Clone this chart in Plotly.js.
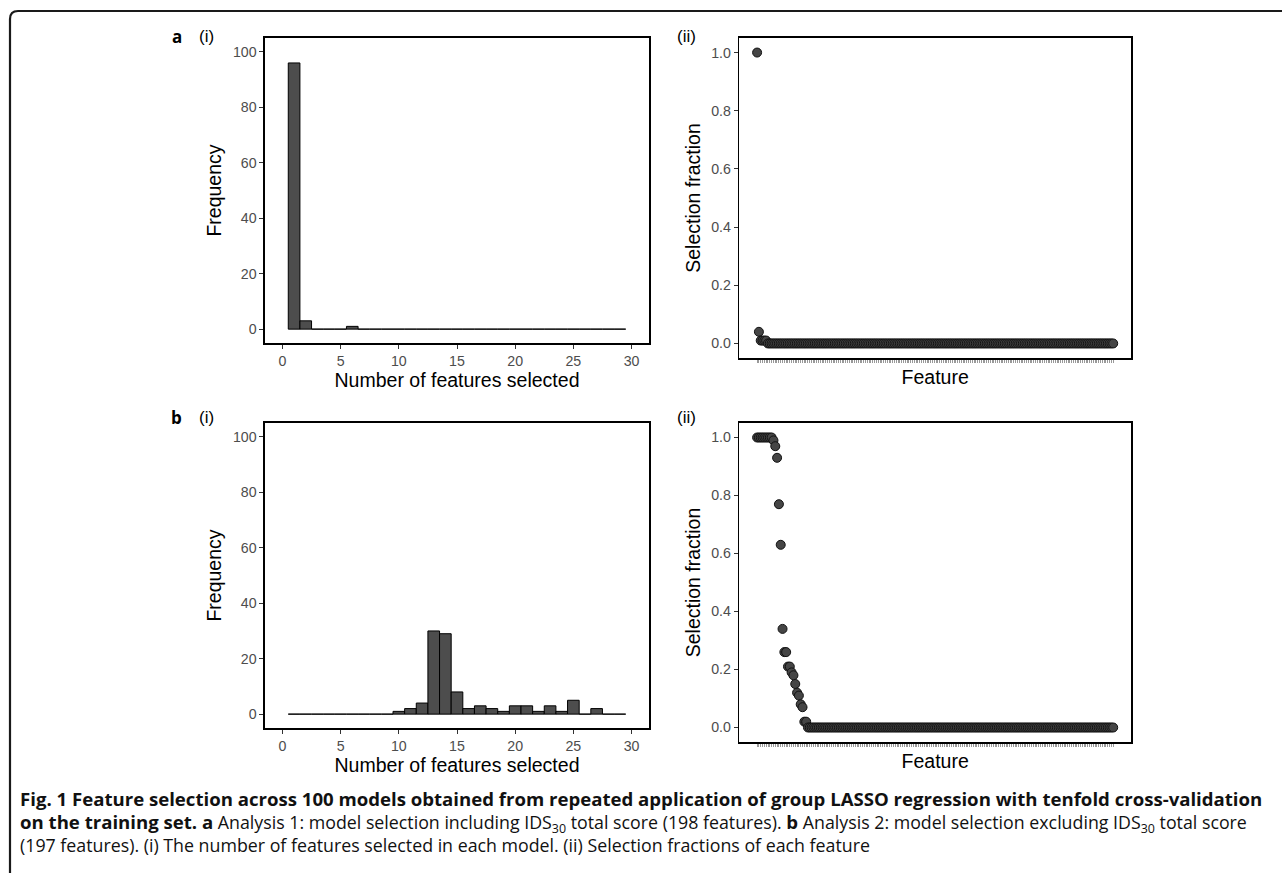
<!DOCTYPE html>
<html>
<head>
<meta charset="utf-8">
<script src="https://cdn.plot.ly/plotly-3.0.1.min.js"></script>
<style>
  html, body { margin: 0; padding: 0; background: #ffffff; }
  #chart { width: 1282px; height: 873px; }
</style>
</head>
<body>
<div id="chart"></div>
<script>
// ---------- DATA ----------
// Histogram bins: number of features selected per model
const bins = [1,2,3,4,5,6,7,8,9,10,11,12,13,14,15,16,17,18,19,20,21,22,23,24,25,26,27,28,29];
// Analysis 1 (a-i): frequency of models per number of selected features
const freqA = [96,3,0,0,0,1,0,0,0,0,0,0,0,0,0,0,0,0,0,0,0,0,0,0,0,0,0,0,0];
// Analysis 2 (b-i)
const freqB = [0,0,0,0,0,0,0,0,0,1,2,4,30,29,8,2,3,2,1,3,3,1,3,1,5,0,2,0,0];

// Selection fraction of each feature (sorted), Analysis 1: 198 features
const fracA = [1.00,0.04,0.01,0.01,0.01,0.01,
  0,0,0,0,0,0,0,0,0,0,0,0,0,0,0,0,0,0,0,0,
  0,0,0,0,0,0,0,0,0,0,0,0,0,0,0,0,0,0,0,0,
  0,0,0,0,0,0,0,0,0,0,0,0,0,0,0,0,0,0,0,0,
  0,0,0,0,0,0,0,0,0,0,0,0,0,0,0,0,0,0,0,0,
  0,0,0,0,0,0,0,0,0,0,0,0,0,0,0,0,0,0,0,0,
  0,0,0,0,0,0,0,0,0,0,0,0,0,0,0,0,0,0,0,0,
  0,0,0,0,0,0,0,0,0,0,0,0,0,0,0,0,0,0,0,0,
  0,0,0,0,0,0,0,0,0,0,0,0,0,0,0,0,0,0,0,0,
  0,0,0,0,0,0,0,0,0,0,0,0,0,0,0,0,0,0,0,0,
  0,0,0,0,0,0,0,0,0,0,0,0];
// Analysis 2: 197 features
const fracB = [1.00,1.00,1.00,1.00,1.00,1.00,1.00,1.00,1.00,0.99,0.97,0.93,0.77,0.63,
  0.34,0.26,0.26,0.21,0.21,0.19,0.18,0.15,0.12,0.11,0.08,0.07,0.02,0.02,
  0,0,0,0,0,0,0,0,0,0,0,0,0,0,0,0,0,0,0,0,
  0,0,0,0,0,0,0,0,0,0,0,0,0,0,0,0,0,0,0,0,
  0,0,0,0,0,0,0,0,0,0,0,0,0,0,0,0,0,0,0,0,
  0,0,0,0,0,0,0,0,0,0,0,0,0,0,0,0,0,0,0,0,
  0,0,0,0,0,0,0,0,0,0,0,0,0,0,0,0,0,0,0,0,
  0,0,0,0,0,0,0,0,0,0,0,0,0,0,0,0,0,0,0,0,
  0,0,0,0,0,0,0,0,0,0,0,0,0,0,0,0,0,0,0,0,
  0,0,0,0,0,0,0,0,0,0,0,0,0,0,0,0,0,0,0,0,
  0,0,0,0,0,0,0,0,0];

const histTicks = [0,5,10,15,20,25,30];
const freqTicks = [0,20,40,60,80,100];
const fracTicks = [0,0.2,0.4,0.6,0.8,1.0];

const featA = fracA.map((_, i) => i + 1);
const featB = fracB.map((_, i) => i + 1);

// ---------- STYLE ----------
const W = 1282, H = 873;
const px = v => v / W;
const py = v => 1 - v / H;
const SANS = 'Liberation Sans, Arial, Helvetica, sans-serif';
const CAP = 'Open Sans, Noto Sans, sans-serif';

const barStyle = {color: '#4d4d4d', line: {color: '#000000', width: 1}};
const ptStyle = {size: 9, color: '#454545', line: {color: '#111111', width: 1}};

const traces = [
  {type: 'bar', x: bins, y: freqA, width: 1, marker: barStyle, xaxis: 'x', yaxis: 'y'},
  {type: 'scatter', mode: 'markers', x: featA, y: fracA, marker: ptStyle, xaxis: 'x2', yaxis: 'y2'},
  {type: 'bar', x: bins, y: freqB, width: 1, marker: barStyle, xaxis: 'x3', yaxis: 'y3'},
  {type: 'scatter', mode: 'markers', x: featB, y: fracB, marker: ptStyle, xaxis: 'x4', yaxis: 'y4'}
];

function ax(extra) {
  return Object.assign({
    showline: true, mirror: true, linecolor: '#000000', linewidth: 1.6,
    ticks: 'outside', ticklen: 4, tickwidth: 1, tickcolor: '#333333',
    tickfont: {family: SANS, size: 14.2, color: '#4d4d4d'},
    showgrid: false, zeroline: false, automargin: false, fixedrange: true
  }, extra);
}
const titleFont = {family: SANS, size: 19.5, color: '#000000'};

function ann(text, x, y, font, anchor) {
  return {text: text, x: px(x), y: py(y), xref: 'paper', yref: 'paper', showarrow: false,
          xanchor: anchor || 'center', yanchor: 'middle', font: font};
}

const B = s => '<b><span style="font-size:18.6px">' + s + '</span></b>';
const R = s => '<span style="font-size:17.8px">' + s + '</span>';
const captionText =
  B('Fig. 1 Feature selection across 100 models obtained from repeated application of group LASSO regression with tenfold cross-validation') + '<br>' +
  B('on the training set. a') + R(' Analysis 1: model selection including IDS<sub>30</sub> total score (198 features). ') +
  B('b') + R(' Analysis 2: model selection excluding IDS<sub>30</sub> total score') + '<br>' +
  R('(197 features). (i) The number of features selected in each model. (ii) Selection fractions of each feature');

const layout = {
  width: W, height: H,
  margin: {l: 0, r: 0, t: 0, b: 0},
  paper_bgcolor: '#ffffff', plot_bgcolor: '#ffffff',
  showlegend: false,
  bargap: 0,
  xaxis: ax({domain: [px(265), px(649)], anchor: 'y', range: [-1.5, 31.5], tickvals: histTicks,
    title: {text: 'Number of features selected', font: titleFont, standoff: 1}}),
  yaxis: ax({domain: [py(343), py(38)], anchor: 'x', range: [-5, 105], tickvals: freqTicks,
    title: {text: 'Frequency', font: titleFont, standoff: 6}}),
  xaxis2: ax({domain: [px(739.3), px(1131)], anchor: 'y2', range: [1 - 9.85, fracA.length + 9.85],
    tickvals: featA, showticklabels: false, ticklen: 3, tickwidth: 0.6, tickcolor: '#555555',
    title: {text: 'Feature', font: titleFont, standoff: 9}}),
  yaxis2: ax({domain: [py(358), py(38)], anchor: 'x2', range: [-0.05, 1.05], tickvals: fracTicks, tickformat: '.1f',
    title: {text: 'Selection fraction', font: titleFont, standoff: 5}}),
  xaxis3: ax({domain: [px(265), px(649)], anchor: 'y3', range: [-1.5, 31.5], tickvals: histTicks,
    title: {text: 'Number of features selected', font: titleFont, standoff: 1}}),
  yaxis3: ax({domain: [py(728), py(423)], anchor: 'x3', range: [-5, 105], tickvals: freqTicks,
    title: {text: 'Frequency', font: titleFont, standoff: 6}}),
  xaxis4: ax({domain: [px(739.3), px(1131)], anchor: 'y4', range: [1 - 9.8, fracB.length + 9.8],
    tickvals: featB, showticklabels: false, ticklen: 3, tickwidth: 0.6, tickcolor: '#555555',
    title: {text: 'Feature', font: titleFont, standoff: 9}}),
  yaxis4: ax({domain: [py(742), py(423)], anchor: 'x4', range: [-0.05, 1.05], tickvals: fracTicks, tickformat: '.1f',
    title: {text: 'Selection fraction', font: titleFont, standoff: 5}}),
  shapes: [
    {type: 'path', xref: 'paper', yref: 'paper',
     path: 'M ' + px(10) + ',0 L ' + px(10) + ',' + py(19) + ' Q ' + px(10) + ',' + py(11) + ' ' + px(18) + ',' + py(11) + ' L 1,' + py(11),
     line: {color: '#1a1a1a', width: 2.2}}
  ],
  annotations: [
    ann('<b>a</b>', 177, 37, {family: CAP, size: 17, color: '#000'}),
    ann('(i)', 206, 37, {family: SANS, size: 17, color: '#000'}),
    ann('(ii)', 686.5, 37, {family: SANS, size: 17, color: '#000'}),
    ann('<b>b</b>', 177, 417, {family: CAP, size: 17, color: '#000'}),
    ann('(i)', 206, 417, {family: SANS, size: 17, color: '#000'}),
    ann('(ii)', 686.5, 417, {family: SANS, size: 17, color: '#000'}),
    Object.assign(ann(captionText, 18, 821, {family: CAP, size: 17.6, color: '#111111'}, 'left'), {align: 'left'})
  ]
};

Plotly.newPlot('chart', traces, layout, {displayModeBar: false, staticPlot: true});
</script>
</body>
</html>
